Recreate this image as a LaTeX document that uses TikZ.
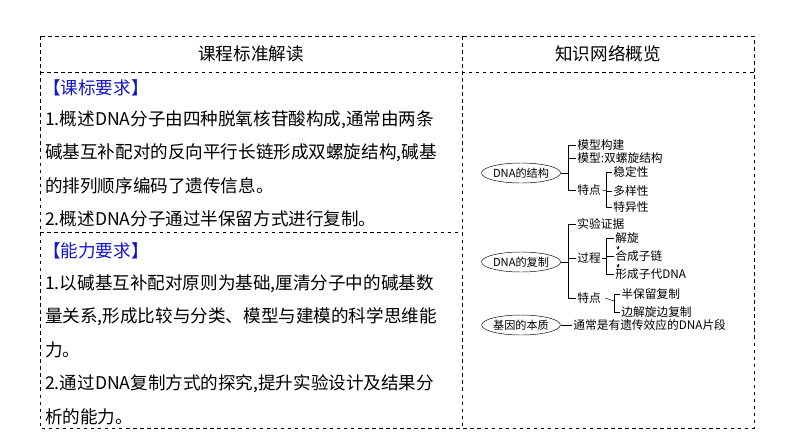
\documentclass[tikz,border=0pt]{standalone}
\usepackage{fontspec}
\setmainfont{Noto Sans CJK SC}
\usetikzlibrary{shapes.geometric}
\definecolor{kblue}{RGB}{20,20,200}

\begin{document}
\begin{tikzpicture}[x=0.03cm,y=-0.03cm,
  lt/.style={anchor=west,inner sep=0pt,font=\fontsize{15}{18}\selectfont},
  mt/.style={anchor=west,inner sep=1pt,font=\fontsize{10}{11}\selectfont},
  oval/.style={draw,ellipse,thin,minimum width=2.2cm,minimum height=0.6cm,inner sep=0pt,font=\fontsize{9.5}{11}\selectfont},
  br/.style={thin}]
\useasboundingbox (0,0) rectangle (794,446);
% Table frame
\draw[dashed,thin] (40,36) rectangle (754,428);
\draw[dashed,thin] (40,72) -- (754,72);
\draw[dashed,thin] (462,36) -- (462,428);
\draw[dashed,thin] (40,232) -- (462,232);
\node[font=\fontsize{15}{18}\selectfont] (hl) at (251,54) {课程标准解读};
\node[font=\fontsize{15}{18}\selectfont] (hr) at (608,54) {知识网络概览};

% Left column text
\node[lt,text=kblue] (t1) at (43,88) {【课标要求】};
\node[lt] (t2) at (45,120) {1.概述DNA分子由四种脱氧核苷酸构成,通常由两条};
\node[lt] (t3) at (45,153) {碱基互补配对的反向平行长链形成双螺旋结构,碱基};
\node[lt] (t4) at (45,186) {的排列顺序编码了遗传信息。};
\node[lt] (t5) at (45,219) {2.概述DNA分子通过半保留方式进行复制。};
\node[lt,text=kblue] (t6) at (43,251) {【能力要求】};
\node[lt] (t7) at (45,284) {1.以碱基互补配对原则为基础,厘清分子中的碱基数};
\node[lt] (t8) at (45,317) {量关系,形成比较与分类、模型与建模的科学思维能};
\node[lt] (t9) at (45,350) {力。};
\node[lt] (t10) at (45,384) {2.通过DNA复制方式的探究,提升实验设计及结果分};
\node[lt] (t11) at (45,417) {析的能力。};

% DNA structure
\node[oval] (jg) at (521,173) {DNA的结构};
\node[mt] (m1) at (576,145) {模型构建};
\node[mt] (m2) at (576,158) {模型:双螺旋结构};
\node[mt] (td1) at (576,190) {特点};
\node[mt] (s1) at (612,172) {稳定性};
\node[mt] (s2) at (612,191) {多样性};
\node[mt] (s3) at (612,207) {特异性};
\draw[br] (jg.east) -- (568,173);
\draw[br] (m1.west) -| (568,190) -- (td1.west);
\draw[br] (m2.west) -- (568,158);
\draw[br] (td1.east) -- (606,191);
\draw[br] (s1.west) -| (606,207) -- (s3.west);
\draw[br] (s2.west) -- (606,191);

% DNA replication
\node[oval] (fz) at (521,262) {DNA的复制};
\node[mt] (e1) at (576,224) {实验证据};
\node[mt] (gc) at (576,258) {过程};
\node[mt] (td2) at (576,298) {特点};
\node[mt] (p1) at (614,238) {解旋};
\node[mt] (p2) at (614,256) {合成子链};
\node[mt] (p3) at (614,274) {形成子代DNA};
\node[mt] (q1) at (620,294) {半保留复制};
\node[mt] (q2) at (620,312) {边解旋边复制};
\draw[br] (fz.east) -- (568,262);
\draw[br] (e1.west) -| (568,298) -- (td2.west);
\draw[br] (gc.west) -- (568,258);
\draw[br] (gc.east) -- (606,258);
\draw[br] (p1.west) -| (606,274) -- (p3.west);
\draw[br] (p2.west) -- (606,256);
\draw[->,>=stealth,very thin] (p1.south west) ++(4,1) -- ++(0,4);
\draw[->,>=stealth,very thin] (p2.south west) ++(4,1) -- ++(0,4);
\draw[br] (td2.east) ++(3,0) -- (614,301);
\draw[br] (q1.west) -| (614,312) -- (q2.west);

% Gene
\node[oval] (jy) at (521,325) {基因的本质};
\node[mt] (g1) at (572,325) {通常是有遗传效应的DNA片段};
\draw[br] (jy.east) -- (g1.west);
\end{tikzpicture}
\end{document}
